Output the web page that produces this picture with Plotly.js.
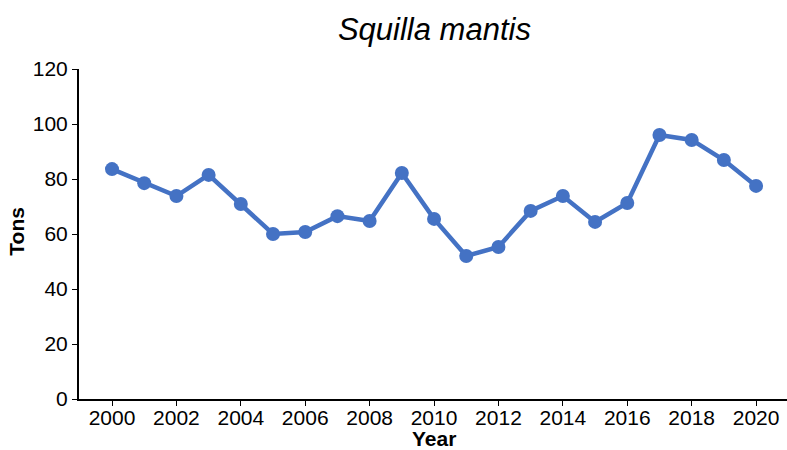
<!DOCTYPE html>
<html><head><meta charset="utf-8">
<script src="https://cdn.plot.ly/plotly-3.0.1.min.js"></script>
<style>html,body{margin:0;padding:0;background:#fff;}#chart{width:787px;height:450px;}</style>
</head><body><div id="chart"></div>
<script>
var years = [2000,2001,2002,2003,2004,2005,2006,2007,2008,2009,2010,2011,2012,2013,2014,2015,2016,2017,2018,2019,2020];
var tons = [83.6,78.5,73.8,81.5,70.9,60.0,60.7,66.5,64.7,82.2,65.5,52.0,55.3,68.4,73.8,64.4,71.3,96.0,94.2,86.9,77.5];
var xTicks = [2000,2002,2004,2006,2008,2010,2012,2014,2016,2018,2020];
var yTicks = [0,20,40,60,80,100,120];

var trace = {
  x: years, y: tons, type: 'scatter', mode: 'lines+markers',
  line: {color: '#4472C4', width: 4.5},
  marker: {color: '#4472C4', size: 14},
  hoverinfo: 'x+y'
};
var font = 'Liberation Sans, Arial, sans-serif';
var layout = {
  width: 787, height: 450,
  margin: {l: 79, r: 0, t: 69, b: 51},
  paper_bgcolor: '#fff', plot_bgcolor: '#fff',
  showlegend: false,
  title: {text: '<i>Squilla mantis</i>', font: {family: font, size: 31, color: '#000'}, x: 0.552, xanchor: 'center', y: 0.935, yanchor: 'middle'},
  xaxis: {
    range: [1998.975, 2020.96], tickvals: xTicks, ticktext: xTicks.map(String),
    showgrid: false, zeroline: false, showline: true, linecolor: '#000', linewidth: 2,
    ticks: 'outside', ticklen: 5, tickwidth: 1, tickcolor: '#000',
    ticklabelstandoff: -6,
    tickfont: {family: font, size: 21, color: '#000'}
  },
  yaxis: {
    range: [0, 120], tickvals: yTicks, ticktext: yTicks.map(String),
    showgrid: false, zeroline: false, showline: true, linecolor: '#000', linewidth: 2,
    ticks: 'outside', ticklen: 5, tickwidth: 1, tickcolor: '#000',
    tickfont: {family: font, size: 21, color: '#000'}
  },
  annotations: [
    {text: '<b>Year</b>', xref: 'paper', yref: 'paper', x: 0.501, y: -0.1212, xanchor: 'center', yanchor: 'middle', showarrow: false, borderpad: 0,
     font: {family: font, size: 21, color: '#000'}},
    {text: '<b>Tons</b>', xref: 'paper', yref: 'paper', x: -0.0876, y: 0.51, xanchor: 'center', yanchor: 'middle', showarrow: false, textangle: -90, borderpad: 0,
     font: {family: font, size: 21, color: '#000'}}
  ]
};
Plotly.newPlot('chart', [trace], layout, {displayModeBar: false, staticPlot: true});
</script></body></html>
